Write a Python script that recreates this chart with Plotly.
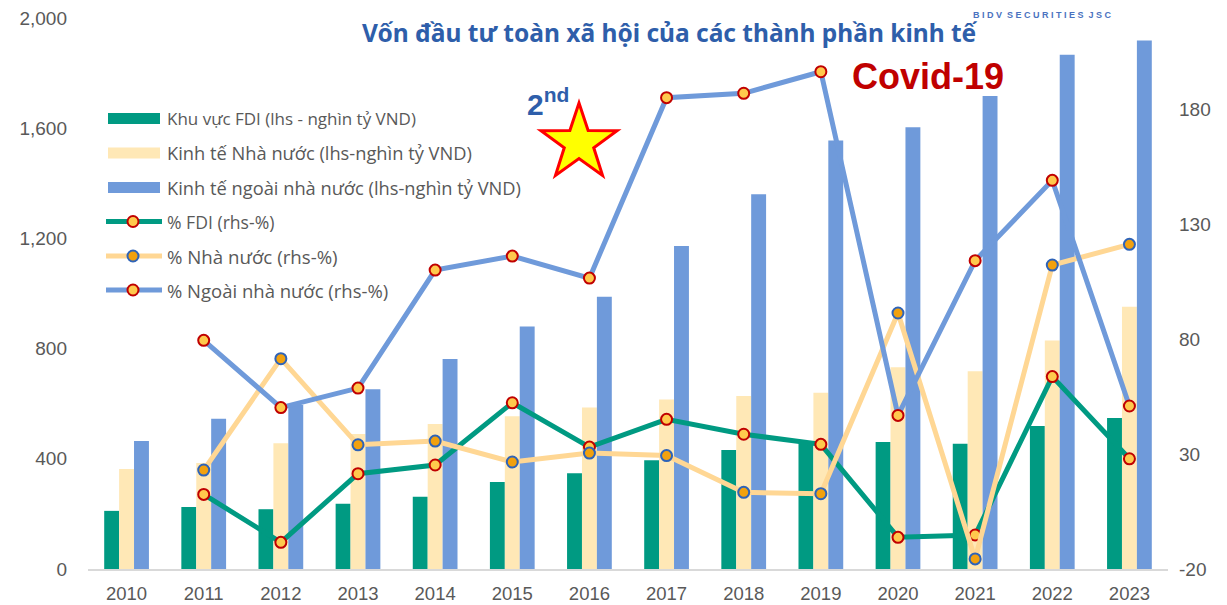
import math
import plotly.graph_objects as go

# ---------------- data ----------------
years = [str(y) for y in range(2010, 2024)]
fdi_bn = [211, 225, 217, 237, 262, 316, 348, 395, 432, 456, 461, 455, 519, 548]
state_bn = [363, 385, 456, 490, 526, 554, 586, 615, 628, 640, 732, 718, 829, 952]
private_bn = [465, 545, 595, 652, 762, 880, 988, 1172, 1360, 1555, 1603, 1717, 1867, 1918]
fdi_pct = [None, 12.5, -8.4, 21.5, 25.3, 52.4, 33.1, 45.2, 38.7, 34.3, -6.2, -5.2, 63.8, 28.0]
state_pct = [None, 23.1, 71.6, 34.1, 35.7, 26.6, 30.5, 29.4, 13.4, 12.8, 91.5, -15.6, 112.4, 121.4]
private_pct = [None, 79.6, 50.3, 58.8, 110.2, 116.3, 106.7, 185.3, 187.2, 196.6, 46.9, 114.3, 149.3, 51.0]
left_ticks = [0, 400, 800, 1200, 1600, 2000]
left_labels = ["0", "400", "800", "1,200", "1,600", "2,000"]
right_ticks = [-20, 30, 80, 130, 180]
right_labels = ["-20", "30", "80", "130", "180"]

bar_names = ["Khu vực FDI (lhs - nghìn tỷ VND)",
             "Kinh tế Nhà nước (lhs-nghìn tỷ VND)",
             "Kinh tế ngoài nhà nước (lhs-nghìn tỷ VND)"]
line_names = ["% FDI (rhs-%)", "% Nhà nước (rhs-%)", "% Ngoài nhà nước (rhs-%)"]
title_text = "Vốn đầu tư toàn xã hội của các thành phần kinh tế"

# ---------------- style ----------------
W, H = 1227, 605
ML, MR, MT, MB = 88, 59, 18, 36
PW, PH = W - ML - MR, H - MT - MB

GREEN = "#009A82"
BEIGE_BAR = "#FFE8B6"
BEIGE_LINE = "#FFD794"
BLUE = "#6F9ADA"
RED = "#C00000"
YELLOW = "#FFC94D"
ORANGE = "#F2A10E"
DBLUE = "#2E63B8"
TXT = "#595959"
FONT = "Liberation Sans, Arial, sans-serif"
LFONT = "Open Sans, sans-serif"


def px(x, y):
    """convert page pixel to paper coordinates"""
    return (x - ML) / PW, (H - MB - y) / PH


fig = go.Figure()

bar_vals = [fdi_bn, state_bn, private_bn]
bar_cols = [GREEN, BEIGE_BAR, BLUE]
for name, vals, col in zip(bar_names, bar_vals, bar_cols):
    fig.add_trace(go.Bar(x=years, y=vals, name=name, marker=dict(color=col, line=dict(width=0)),
                         showlegend=False, yaxis="y"))

line_specs = [
    (line_names[0], fdi_pct, GREEN, YELLOW, RED),
    (line_names[1], state_pct, BEIGE_LINE, ORANGE, DBLUE),
    (line_names[2], private_pct, BLUE, YELLOW, RED),
]
for name, vals, lc, fc, ec in line_specs:
    fig.add_trace(go.Scatter(x=years, y=vals, name=name, mode="lines+markers", yaxis="y2",
                             line=dict(color=lc, width=5),
                             marker=dict(size=11, color=fc, line=dict(color=ec, width=2)),
                             showlegend=False, connectgaps=False))

shapes = []
annotations = []

# custom legend
legend_rows = [118.5, 153, 187.5, 221.5, 256, 290]
legend_sizes = [17, 18.3, 18.3, 17.6, 18.7, 18.5]
for i, name in enumerate(bar_names):
    yc = legend_rows[i]
    x0, y0 = px(108, yc - 5.5)
    x1, y1 = px(160, yc + 5.5)
    shapes.append(dict(type="rect", xref="paper", yref="paper", x0=x0, x1=x1, y0=y1, y1=y0,
                       fillcolor=bar_cols[i], line=dict(width=0), layer="above"))
for j, (name, vals, lc, fc, ec) in enumerate(line_specs):
    yc = legend_rows[3 + j]
    x0, yy = px(106, yc)
    x1, _ = px(162, yc)
    shapes.append(dict(type="line", xref="paper", yref="paper", x0=x0, x1=x1, y0=yy, y1=yy,
                       line=dict(color=lc, width=5), layer="above"))
    xm, _ = px(133, yc)
    shapes.append(dict(type="circle", xref="paper", yref="paper", xsizemode="pixel", ysizemode="pixel",
                       xanchor=xm, yanchor=yy, x0=-5.5, x1=5.5, y0=-5.5, y1=5.5,
                       fillcolor=fc, line=dict(color=ec, width=2), layer="above"))
for i, name in enumerate(bar_names + line_names):
    xt, yt = px(165, legend_rows[i])
    annotations.append(dict(text=name, xref="paper", yref="paper", x=xt, y=yt, xanchor="left",
                            yanchor="middle", showarrow=False,
                            font=dict(size=legend_sizes[i], color=TXT, family=LFONT)))

# star
cx, cy, R, r = 579, 143, 40, 15.5
pts = []
for k in range(10):
    ang = math.radians(-90 + 36 * k)
    rad = R if k % 2 == 0 else r
    pts.append(px(cx + rad * math.cos(ang), cy + rad * math.sin(ang)))
path = "M " + " L ".join(f"{a:.5f},{b:.5f}" for a, b in pts) + " Z"
shapes.append(dict(type="path", xref="paper", yref="paper", path=path, fillcolor="#FFFF00",
                   line=dict(color="#FF0000", width=3), layer="above"))

# title and texts
tx, ty = px(670, 32)
annotations.append(dict(text=f"<b>{title_text}</b>", xref="paper", yref="paper", x=tx, y=ty,
                        xanchor="center", yanchor="middle", showarrow=False,
                        font=dict(size=24.5, color="#2E5EAA", family="Noto Sans, sans-serif")))
bx, by = px(1042, 15)
annotations.append(dict(text="<b>B I D V  S E C U R I T I E S  J S C</b>", xref="paper", yref="paper",
                        x=bx, y=by, xanchor="center", yanchor="middle", showarrow=False,
                        font=dict(size=9, color="#4A72C0", family=FONT)))
cvx, cvy = px(928, 76)
annotations.append(dict(text="<b>Covid-19</b>", xref="paper", yref="paper", x=cvx, y=cvy,
                        xanchor="center", yanchor="middle", showarrow=False,
                        font=dict(size=36, color=RED, family=FONT)))
nx, ny = px(548, 102)
annotations.append(dict(text="<b>2<sup>nd</sup></b>", xref="paper", yref="paper", x=nx, y=ny,
                        xanchor="center", yanchor="middle", showarrow=False,
                        font=dict(size=30, color="#2E5EAA", family=FONT)))

fig.update_layout(
    width=W, height=H,
    margin=dict(l=ML, r=MR, t=MT, b=MB, pad=0, autoexpand=False),
    paper_bgcolor="white", plot_bgcolor="white",
    barmode="group", bargap=0.42, bargroupgap=0,
    font=dict(family=FONT, color=TXT, size=18),
    xaxis=dict(type="category", range=[-0.5, len(years) - 0.5], showgrid=False, showline=True,
               linecolor="#D9D9D9", linewidth=1.5, ticks="", tickfont=dict(size=18.5, color=TXT),
               ticklabelstandoff=7, automargin=False),
    yaxis=dict(range=[0, 2000], tickvals=left_ticks, ticktext=left_labels, showgrid=False,
               zeroline=False, showline=False, ticks="", tickfont=dict(size=19, color=TXT),
               ticklabelstandoff=20, automargin=False),
    yaxis2=dict(range=[-20, 220], tickvals=right_ticks, ticktext=right_labels, overlaying="y",
                side="right", showgrid=False, zeroline=False, showline=False, ticks="",
                tickfont=dict(size=19, color=TXT), ticklabelstandoff=10, automargin=False),
    shapes=shapes, annotations=annotations,
)

fig.write_html("out.html", config={"displayModeBar": False},
               post_script="document.body.style.margin='0';")
